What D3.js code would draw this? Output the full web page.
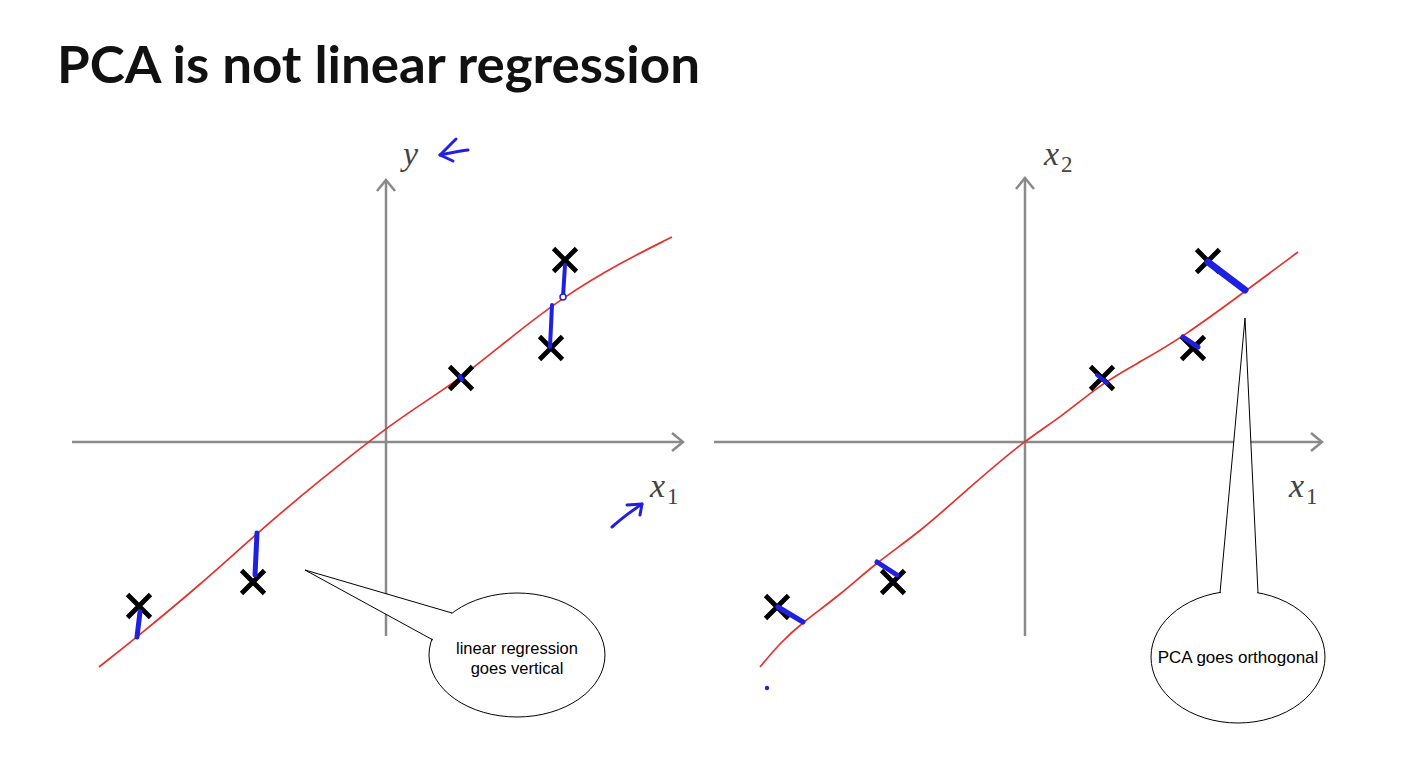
<!DOCTYPE html>
<html><head><meta charset="utf-8">
<script src="https://cdn.jsdelivr.net/npm/d3@7"></script>
<style>body{margin:0;background:#fff}svg{display:block}</style>
</head><body>
<svg id="c" width="1424" height="766"></svg>
<script>
// ---- data (units: axis-relative, origin at axes crossing) ----
const leftPoints = [[-2.47,-1.64],[-1.33,-1.40],[0.75,0.64],[1.65,0.94],[1.79,1.82]];
const rightPoints = [[-2.48,-1.65],[-1.32,-1.40],[0.77,0.64],[1.68,0.94],[1.83,1.81]];
const regressionLine = [[-2.87,-2.25],[-2.49,-1.95],[-1.86,-1.43],[-1.29,-0.91],[-0.66,-0.38],[0,0.14],[0.34,0.37],[0.75,0.64],[1.24,1.04],[1.77,1.45],[2.34,1.79],[2.86,2.05]];
const pcaLine = [[-2.65,-2.25],[-2.45,-2.01],[-2.22,-1.80],[-1.85,-1.53],[-1.48,-1.20],[-1.05,-0.90],[-0.55,-0.45],[0,0.02],[0.35,0.24],[0.77,0.59],[1.15,0.80],[1.58,1.05],[2.22,1.52],[2.73,1.90]];
const leftResiduals = [[[-2.49,-1.95],[-2.46,-1.70]],[[-1.29,-0.91],[-1.31,-1.33]],[[0.74,0.66],[0.76,0.62]],[[1.66,1.37],[1.64,0.95]],[[1.77,1.45],[1.79,1.77]]];
const rightResiduals = [[[-2.47,-1.65],[-2.22,-1.80]],[[-1.48,-1.20],[-1.28,-1.33]],[[0.72,0.67],[0.82,0.59]],[[1.58,1.05],[1.73,0.95]],[[1.83,1.80],[2.20,1.52]]];
const rightResidualWidths = [5,5,4,5,7];
const leftResidualWidths = [5,5,4,4,4];
const title = "PCA is not linear regression";
const leftLabels = {y:"y", x:"x", xs:"1"};
const rightLabels = {y:"x", ys:"2", x:"x", xs:"1"};
const leftCallout = ["linear regression","goes vertical"];
const rightCallout = ["PCA goes orthogonal"];

const svg = d3.select("#c");
const RED = "#e5312c", BLUE = "#2020e0", GRAY = "#8a8a8a";

svg.append("text").attr("x",57).attr("y",83).text(title)
  .attr("font-family","Lato, 'Open Sans', sans-serif").attr("font-weight",700)
  .attr("font-size",51).attr("fill","#111")
  .attr("textLength",643).attr("lengthAdjust","spacingAndGlyphs");

function panel(cfg){
  const x = d3.scaleLinear().domain(cfg.xd).range(cfg.xr);
  const y = d3.scaleLinear().domain(cfg.yd).range([636, cfg.ytop]);
  const g = svg.append("g");
  const ox = x(0), oy = y(0);
  const xEnd = x(cfg.xd[1]), yEnd = y(cfg.yd[1]);
  g.append("line").attr("x1",x(cfg.xd[0])).attr("x2",xEnd).attr("y1",oy).attr("y2",oy)
   .attr("stroke",GRAY).attr("stroke-width",2.5);
  g.append("line").attr("x1",ox).attr("x2",ox).attr("y1",y(cfg.yd[0])).attr("y2",yEnd)
   .attr("stroke",GRAY).attr("stroke-width",2.5);
  g.append("path").attr("d",`M${xEnd-11},${oy-9}L${xEnd},${oy}L${xEnd-11},${oy+9}`)
   .attr("fill","none").attr("stroke",GRAY).attr("stroke-width",2.5);
  g.append("path").attr("d",`M${ox-9},${yEnd+11}L${ox},${yEnd}L${ox+9},${yEnd+11}`)
   .attr("fill","none").attr("stroke",GRAY).attr("stroke-width",2.5);
  g.append("path").datum(cfg.line)
   .attr("d", d3.line().x(d=>x(d[0])).y(d=>y(d[1])).curve(d3.curveBasis))
   .attr("fill","none").attr("stroke",RED).attr("stroke-width",1.7);
  const s = 11.5;
  g.selectAll(".pt").data(cfg.points).enter().append("path")
   .attr("d",d=>{const px=x(d[0]),py=y(d[1]);return `M${px-s},${py-s}L${px+s},${py+s}M${px-s},${py+s}L${px+s},${py-s}`;})
   .attr("stroke","#000").attr("stroke-width",4.8).attr("fill","none");
  g.selectAll(".res").data(cfg.res).enter().append("line")
   .attr("x1",d=>x(d[0][0])).attr("y1",d=>y(d[0][1]))
   .attr("x2",d=>x(d[1][0])).attr("y2",d=>y(d[1][1]))
   .attr("stroke",BLUE).attr("stroke-width",(d,i)=>cfg.resW[i]).attr("stroke-linecap","round");
  return {x,y,g};
}

const L = panel({xd:[-3.14,2.97], xr:[72,683], yd:[-1.94,2.62], ytop:180,
  line:regressionLine, points:leftPoints, res:leftResiduals, resW:leftResidualWidths});
const R = panel({xd:[-3.11,2.97], xr:[714,1322], yd:[-1.94,2.64], ytop:178,
  line:pcaLine, points:rightPoints, res:rightResiduals, resW:rightResidualWidths});

L.g.append("circle").attr("cx",L.x(1.77)).attr("cy",L.y(1.45)).attr("r",3)
  .attr("fill","#fff").attr("stroke",BLUE).attr("stroke-width",1.5);
R.g.append("circle").attr("cx",R.x(-2.58)).attr("cy",R.y(-2.46)).attr("r",2.2).attr("fill",BLUE);

function mathLabel(px, py, main, sub){
  const t = svg.append("text").attr("x",px).attr("y",py).attr("fill","#444")
    .attr("font-family","'Liberation Serif', 'DejaVu Serif', serif");
  t.append("tspan").text(main).attr("font-style","italic").attr("font-size",34);
  if(sub) t.append("tspan").text(sub).attr("font-size",23).attr("dx",2).attr("dy",7);
}
mathLabel(L.x(0)+17, L.y(2.62)-15, leftLabels.y);
mathLabel(L.x(2.64), L.y(-0.55), leftLabels.x, leftLabels.xs);
mathLabel(R.x(0)+19, R.y(2.64)-13, rightLabels.y, rightLabels.ys);
mathLabel(R.x(2.64), R.y(-0.55), rightLabels.x, rightLabels.xs);

function arrowPath(g, pts, head){
  g.append("path").attr("d", d3.line().curve(d3.curveBasis)(pts))
   .attr("fill","none").attr("stroke",BLUE).attr("stroke-width",3).attr("stroke-linecap","round");
  g.append("path").attr("d", d3.line()(head))
   .attr("fill","none").attr("stroke",BLUE).attr("stroke-width",3).attr("stroke-linecap","round").attr("stroke-linejoin","round");
}
{
  const x=L.x, y=L.y;
  arrowPath(L.g, [[x(0.82),y(2.92)],[x(0.68),y(2.90)],[x(0.54),y(2.87)]],
    [[x(0.70),y(3.03)],[x(0.54),y(2.87)],[x(0.67),y(2.81)]]);
  arrowPath(L.g, [[x(2.26),y(-0.85)],[x(2.40),y(-0.73)],[x(2.56),y(-0.62)]],
    [[x(2.41),y(-0.63)],[x(2.56),y(-0.62)],[x(2.54),y(-0.73)]]);
}

function callout(P, cx, cy, rx, ry, tip, base1, base2, lines, ty, fs){
  const g = P.g, ecx=P.x(cx), ecy=P.y(cy);
  g.append("ellipse").attr("cx",ecx).attr("cy",ecy).attr("rx",rx).attr("ry",ry)
   .attr("fill","#fff").attr("stroke","#000").attr("stroke-width",1);
  const tx=P.x(tip[0]), tyy=P.y(tip[1]);
  g.append("path").attr("d",`M${ecx+base1[0]*0.97},${ecy+base1[1]*0.97}L${tx},${tyy}L${ecx+base2[0]*0.97},${ecy+base2[1]*0.97}Z`)
   .attr("fill","#fff").attr("stroke","none");
  g.append("path").attr("d",`M${ecx+base1[0]},${ecy+base1[1]}L${tx},${tyy}L${ecx+base2[0]},${ecy+base2[1]}`)
   .attr("fill","none").attr("stroke","#000").attr("stroke-width",1);
  lines.forEach((l,i)=>{
    g.append("text").attr("x",ecx).attr("y",ecy+ty+i*20).attr("text-anchor","middle")
     .attr("font-family","'Liberation Sans', Arial, sans-serif").attr("font-size",fs).attr("fill","#000").text(l);
  });
}
callout(L, 1.31, -2.13, 88, 62, [-0.81,-1.28], [-65,-42], [-84,-15], leftCallout, -1, 16.5);
callout(R, 2.13, -2.15, 87, 66, [2.20,1.24], [-18,-64], [20,-64], rightCallout, 6, 17);
</script>
</body></html>
